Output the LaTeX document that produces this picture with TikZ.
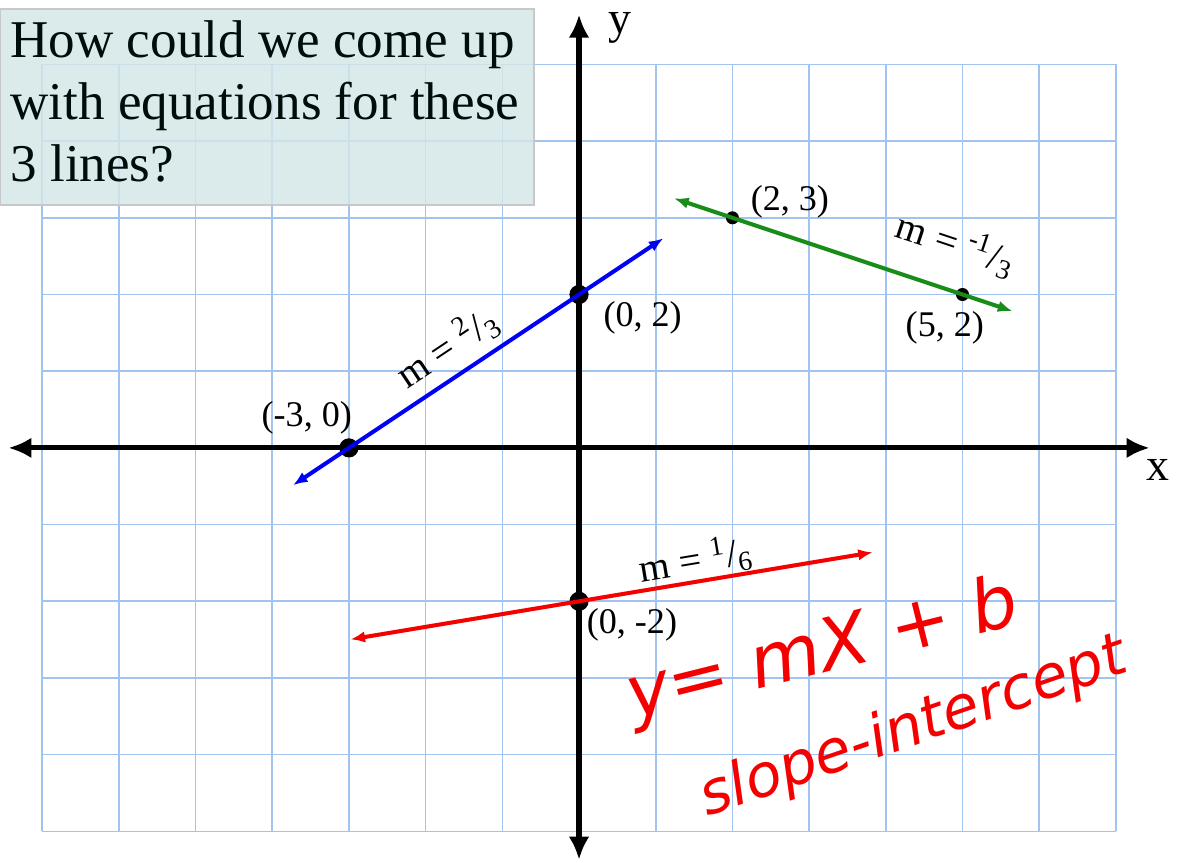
\documentclass[tikz,border=0pt]{standalone}
\usepackage{fontspec}
\setmainfont{Liberation Serif}
\newfontfamily\handfont{DejaVu Sans}
\usepackage{xcolor}
\usetikzlibrary{arrows.meta, positioning, calc}

\definecolor{gridblue}{RGB}{160,195,240}
\definecolor{boxfill}{RGB}{213,230,230}
\definecolor{boxline}{RGB}{200,200,200}
\definecolor{lineblue}{RGB}{0,0,245}
\definecolor{linegreen}{RGB}{25,140,25}
\definecolor{linered}{RGB}{245,0,0}

\begin{document}
\begin{tikzpicture}[
  bigdot/.style={circle, fill=black, inner sep=0pt, minimum size=0.25cm},
  smalldot/.style={circle, fill=black, inner sep=0pt, minimum size=0.17cm},
  ptlabel/.style={font=\fontsize{13.4}{15}\selectfont},
  slopelabel/.style={font=\fontsize{14.6}{16}\selectfont},
  slopeline/.style={line width=1.5pt, {Latex[length=0.19cm,width=0.15cm]}-{Latex[length=0.19cm,width=0.15cm]}},
  axisline/.style={line width=1.9pt, -{Latex[length=0.3cm,width=0.27cm]}},
  hand/.style={text=linered, inner sep=1pt}]
\useasboundingbox (-7.55,-5.41) rectangle (7.81,5.84);

% Grid
\draw[gridblue, line width=0.6pt] (-7,-5) grid (7,5);

% Question box
\fill[boxfill, fill opacity=0.85] (-7.55,3.17) rectangle (-0.59,5.72);
\draw[boxline, line width=0.9pt] (-7.55,3.17) rectangle (-0.59,5.72);
\node (question) [anchor=north west, align=left, inner sep=0pt, text=black!90!teal,
  font=\fontsize{19.7}{23}\selectfont] at (-7.42,5.58)
  {How could we come up\\with equations for these\\3 lines?};

% Axes
\coordinate (O) at (0,0);
\coordinate (xl) at (-7.44,0);
\coordinate (xr) at (7.44,0);
\coordinate (yb) at (0,-5.37);
\coordinate (yt) at (0,5.65);
\draw[axisline] (O) -- (xr);
\draw[axisline] (O) -- (xl);
\draw[axisline] (O) -- (yt);
\draw[axisline] (O) -- (yb);
\node (ylabel) [font=\fontsize{17}{19}\selectfont] at (0.53,5.48) {y};
\node (xlabel) [font=\fontsize{17}{19}\selectfont] at (7.55,-0.29) {x};

% Points
\node[bigdot] (pa) at (-3,0) {};
\node[bigdot] (pb) at (0,2) {};
\node[smalldot] (pc) at (2,3) {};
\node[smalldot] (pd) at (5,2) {};
\node[bigdot] (pe) at (0,-2) {};

% Blue line, m = 2/3
\coordinate (bl) at (-3.73,-0.487);
\coordinate (br) at (1.10,2.733);
\draw[slopeline, lineblue] (bl) -- (br);
\node[slopelabel, rotate=33.7] (mblue) at (-1.72,1.31) {m = \textsuperscript{2}/\textsubscript{3}};

% Green line, m = -1/3
\coordinate (gl) at (1.24,3.253);
\coordinate (gr) at (5.65,1.783);
\draw[slopeline, linegreen] (gl) -- (gr);
\node[slopelabel, rotate=-18.4] (mgreen) at (4.92,2.66) {m = \textsuperscript{-1}/\textsubscript{3}};

% Red line, m = 1/6
\coordinate (rl) at (-2.98,-2.497);
\coordinate (rr) at (3.83,-1.362);
\draw[slopeline, linered] (rl) -- (rr);
\node[slopelabel, rotate=9.5] (mred) at (1.52,-1.46) {m = \textsuperscript{1}/\textsubscript{6}};

% Point labels
\node[ptlabel] (la) at (-3.55,0.39) {(-3, 0)};
\node[ptlabel] (lb) at (0.83,1.69) {(0, 2)};
\node[ptlabel] (lc) at (2.75,3.21) {(2, 3)};
\node[ptlabel] (ld) at (4.77,1.56) {(5, 2)};
\node[ptlabel] (le) at (0.69,-2.31) {(0, -2)};

% Handwritten notes
\node[hand, rotate=14, font=\handfont\itshape\fontsize{27}{29}\selectfont] (eq) at (3.18,-2.66) {y= mX + b};
\node[hand, rotate=19, font=\handfont\itshape\fontsize{22}{24}\selectfont] (si) at (4.36,-3.66) {slope-intercept};
\end{tikzpicture}
\end{document}
